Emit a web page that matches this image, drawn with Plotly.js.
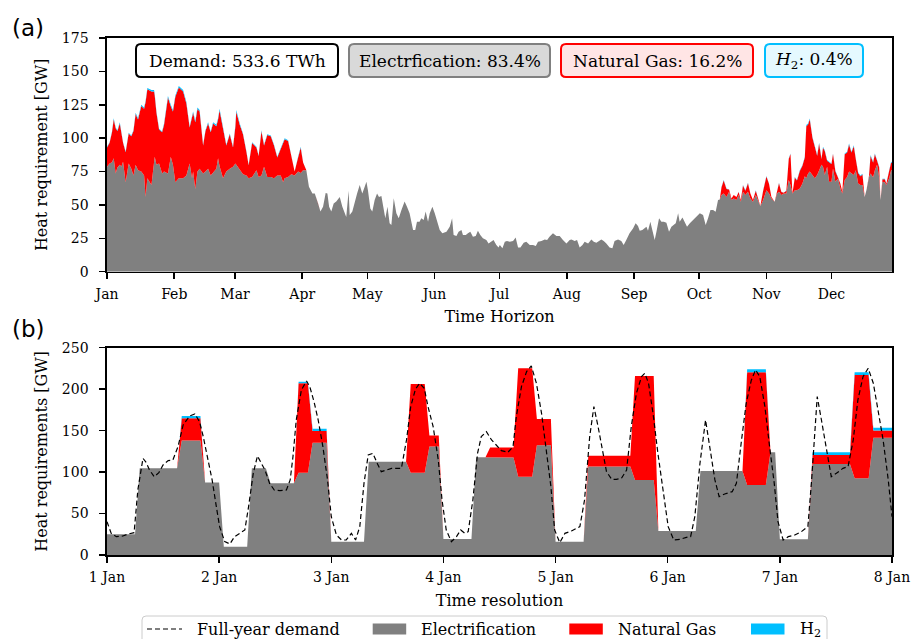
<!DOCTYPE html>
<html><head><meta charset="utf-8">
<script src="https://cdn.plot.ly/plotly-3.0.1.min.js"></script>
<style>html,body{margin:0;padding:0;background:#fff}</style>
</head><body><div id="chart" style="width:912px;height:639px"></div>
<script>
// ---------------- Panel (a): daily heat requirement over the year (GW) ----------------
const monthStartDays = [0,31,59,90,120,151,181,212,243,273,304,334];
const monthLabels = ['Jan','Feb','Mar','Apr','May','Jun','Jul','Aug','Sep','Oct','Nov','Dec'];

// winter (Jan-Mar): electrification, natural gas, H2
const winterDays = [0,1.2,2.3,3.1,4.0,4.8,5.9,6.6,7.4,8.6,10.0,11.2,12.2,13.2,14.3,15.8,17.1,17.8,18.6,20.5,21.7,22.0,22.8,24.0,25.4,26.3,28.1,29.4,30.4,31.5,33.1,35.1,36.6,38.1,39.2,39.7,40.7,41.7,42.7,44.3,45.4,46.6,47.8,48.9,50.4,51.2,51.9,53.5,55.0,56.6,58.1,59.2,59.6,61.2,62.7,64.3,65.3,66.9,68.9,69.9,71.2,72.4,73.9,75.5,77.0,78.5,80.1,81.2,81.9,83.5,85.0,86.5,88.1,89.3,90.4,91.9];
const winterElec = [78.5,81,82,85,73.6,78,80,78.5,82.3,67,81,77,72,80,76,75,72,56,70,65,82,86,80,81,73.6,75,73.6,86,80,67,70,70,72,81,70,75,62,75,77,73.6,75,77,72,74,77,85,79,70,75,77,78.5,81,80,76,73,72,70,71,76,71,72,78.5,71,71,70,72,72,67,70,71,73,72,75,74,76,76];
const winterGas = [14.5,15.5,22.4,29,33.8,27.4,31,23.9,14.2,22.5,22.4,24.4,33.4,38,38,49,50,71,66.6,70,53,46,39,25.4,30.8,35,56.8,37.8,40,64,68,65,54,26.9,47,44,50,46.8,43,20.9,30.4,34,32.4,37,32,29,41.8,36.4,19.5,25.9,14.5,28,39.8,34,29.9,17.5,9.7,25.4,17,15.6,33.2,16,31.4,30.4,24.5,13.6,19.5,28.4,29.2,26.9,12.6,3,10.6,18.9,5.7,0];
const winterH2 = [0.5,0.5,0.6,1,0.6,0.6,1,0.6,0.5,0.5,0.6,0.6,0.6,1,1,1,1,1,1,1,1,1,1,0.6,0.6,1,1.2,1.2,1,1,1,1,1,0.6,1,1,1,1.2,1,0.5,0.6,1,0.6,1,1,1,1.2,0.6,0.5,0.6,0.5,1,1.2,1,0.6,0.5,0.3,0.6,0.5,0.4,0.8,0.5,0.6,0.6,0.5,0.4,0.5,0.6,0.8,0.6,0.4,0,0.4,0.6,0.3,0];

// summer (Apr-Oct): electrification only
const summerDays = [93.1,94.7,95.8,97.3,98.4,99.6,100.8,101.6,102.4,103.4,104.5,105.7,107.3,108.5,109.6,110.3,111.4,111.9,113.1,114.2,115.3,116.5,117.7,118.8,119.6,120.3,121.4,122.3,123.4,124.5,125.4,126.5,127.3,128.3,129.3,130.3,131.1,132.2,133.4,134.5,135.7,137.2,138.3,139.5,141.1,142.1,142.9,144.1,144.9,146.0,146.9,148.0,148.8,150.0,151.1,152.1,153.4,154.6,156.5,158.0,159.1,159.8,161.1,162.1,163.4,164.1,165.4,166.4,167.5,168.7,170.0,171.0,172.1,173.3,174.9,175.9,177.2,178.2,179.5,180.5,181.1,182.3,183.4,184.4,185.7,187.2,188.4,189.5,190.6,192.1,193.3,194.9,196.4,197.7,198.7,200.3,201.8,202.9,204.0,205.6,207.2,208.7,210.2,211.8,213.3,214.1,215.6,216.7,217.9,219.2,220.2,221.8,223.3,224.4,225.6,226.8,227.9,229.0,230.2,231.7,233.0,234.0,235.6,237.1,238.2,239.4,240.9,242.5,243.7,244.8,245.6,246.8,247.9,248.7,249.4,250.5,251.4,252.5,253.3,254.5,255.6,256.7,257.9,259.1,260.2,261.3,262.2,263.3,264.0,265.3,266.4,267.4,268.7,269.9,271.0,272.0,273.3,274.8,276.0,277.1,278.2,279.4,280.6,281.7,282.5];
const summerElec = [63.6,58.6,58.6,51,45,48.6,59,58.6,48.6,45,51,52.6,56,48.6,43.7,41,60.6,42.4,45,52.6,58.6,65,58.6,63.6,67.3,61,47.4,45,53.6,58.6,56,56.6,48.6,40,48.6,36.2,35,55,43.7,40,46,52.6,48.6,43.7,31.2,31.2,37.4,37.4,40,38.7,45,37.4,43.7,48.6,43.7,37.4,31.2,28.7,30,33.6,40,27.4,26.7,30,31.2,27.4,27.4,28.7,30,26.2,26.7,30.7,27.4,25,23.7,21.2,22.4,23.7,20,18.2,20,17.5,22.4,23,22.4,23,25.7,18.2,18.2,21.6,22.4,20,20,19.2,22.4,22.9,24.2,23.7,26.2,28.7,26.7,26.7,23.7,21.2,23.7,24.2,23,23.7,18.2,20,22.4,21.2,24.2,22.4,21.6,22.9,24.2,22.9,21.2,18.2,17.5,23,24.2,23,20,23.7,28.7,32.4,36.2,34.2,30.7,31.2,32.4,33.6,30.7,37.4,31.2,23.7,30,40,37.4,37.4,36.7,30,33.6,34.9,36.2,43.7,37.4,40.6,37.4,33.6,36.2,38.2,40,41.2,43.7,42.4,35,40,46.2,46.2,44.9,53.6,54];

// autumn/winter (Oct-Dec): electrification, natural gas, H2
const autumnDays = [283.3,284.3,285.6,286.8,287.9,288.9,290.2,291.2,292.2,293.2,294.3,295.5,296.6,297.8,299.1,300.2,301.2,302.5,304.0,305.2,306.3,307.8,308.9,309.8,310.9,312.0,313.2,314.3,315.1,316.0,317.1,318.1,319.4,320.6,321.7,322.4,323.2,324.0,325.2,326.3,327.4,328.3,329.4,330.1,330.9,332.0,332.9,334.0,334.7,335.8,337.0,338.1,339.0,340.1,341.2,342.1,343.2,344.3,345.2,346.3,347.3,348.3,349.3,350.1,351.3,352.0,353.2,354.0,355.0,356.0,356.6,357.5,358.6,359.3,360.6,361.5,362];
const autumnElec = [57.4,58.6,56,59.9,53.6,54.9,53.6,57.4,52.4,59.9,57.4,59.9,54.9,52.4,57.4,53.6,49.2,53.6,61,58.6,54.9,52.4,58.6,59.9,57.4,58.6,58.6,68.6,64.9,58.6,61,61,62.3,66.1,71.4,70,73.6,75,72.4,70,72.4,76,80,78.5,72.4,78.5,67.3,67.3,77.3,67.3,69.6,62.3,58.6,68.6,71,75,73.6,72.4,76,66.1,64.9,64.9,56,61,70.8,73.6,70.8,76,80,70.8,53.6,67.3,67,64.9,70,76,76];
const autumnGas = [5.9,9.6,6,1.7,1.3,2.5,2.4,2.2,1.2,4.6,3.3,6.3,3.7,1.2,3.3,0,0,7.1,10.2,7.2,1.1,0,2.1,6.3,2.2,0.6,2.1,15.7,23.2,0,9.5,7.2,13.2,13.2,14.1,39,36.6,39,28,22.9,14.4,19.9,4.3,14.4,18,4.6,14.5,13.3,10.8,8,0.9,3.5,1.3,19.4,18.2,20.2,15.6,21.5,8.3,7.9,6.6,7.9,0,0,0.9,13.1,10.9,12,3.2,7.3,0,2,2.3,0.9,5.6,5.8,5.5];
const autumnH2 = [0.3,0.4,0.3,0,0,0,0,0.3,0,0.4,0.3,0.4,0,0,0.3,0,0,0.3,0.4,0.3,0,0,0.3,0.4,0.3,0,0.3,0.5,0.5,0,0.5,0.4,0.5,0.5,0.5,0.8,0.8,0.8,0.6,0.6,0.5,0.6,0.5,0.6,0.6,0.5,0.5,0.5,0.5,0.4,0.3,0.3,0,0.6,0.6,0.8,0.6,0.8,0.5,0.5,0.5,0.5,0,0,0.3,0.6,0.6,0.6,0.4,0.4,0,0.3,0.3,0.3,0.4,0.5,0.5];

// ---------------- Panel (b): representative week, hourly (GW) ----------------
const weekTickHours = [0,24,48,72,96,120,144,168];
const weekTickLabels = ['1 Jan','2 Jan','3 Jan','4 Jan','5 Jan','6 Jan','7 Jan','8 Jan'];
const hoursB = [0,6,7,15,16,20,21,24,25,30,31,34,35,40,41,43,44,47,48,55,56,64,65,68,69,71,72,78,79,81,82,87,88,91,92,95,96,102,103,112,113,117,118,126,127,136,137,141,142,143,144,150,151,159,160,163,164,168];
const elecB = [25,25,104.5,104.5,138,138,87.3,87.3,10,10,104.5,104.5,86.4,86.4,99.3,99.3,135.5,135.5,16.1,16.1,112.6,112.6,99.3,99.3,130.7,130.7,19.3,19.3,118,118,117.5,117.5,94.5,94.5,132.3,132.3,16.1,16.1,106.6,106.6,90.5,90.5,29,29,101.3,101.3,84.4,84.4,123.8,123.8,18.9,18.9,109.8,109.8,92.5,92.5,141.5,141.5];
const gasB = [0,0,0,0,27,27,0,0,0,0,0,0,0,0,107.7,107.7,14.1,14.1,0,0,0,0,107,107,13.3,13.3,0,0,0,0,12,12,130.7,130.7,31.7,31.7,0,0,13.2,13.2,125.5,125.5,0,0,0,0,135.9,135.9,0,0,0,0,10.8,10.8,124.5,124.5,8.5,8.5];
const h2B = [0,0,0,0,2.7,2.7,0,0,0,0,0,0,0,0,2,2,2.8,2.8,0,0,0,0,0,0,0,0,0,0,0,0,0,0,0,0,0,0,0,0,0,0,0,0,0,0,0,0,3.7,3.7,0,0,0,0,3.2,3.2,3.3,3.3,3.6,3.6];
const demandHours = [0,0.9,2.0,3.4,4.5,5.8,6.6,7.7,8.4,9.1,10.1,11.1,12.0,13.1,14.1,15.2,16.3,17.7,18.8,19.8,20.6,21.6,22.5,23.4,24.1,25.2,26.3,27.3,28.4,29.5,30.3,31.3,32.2,33.0,33.8,34.8,35.8,37.0,38.4,39.2,39.8,40.5,41.6,42.7,43.4,44.3,45.2,46.2,47.2,48.0,49.1,50.2,51.2,52.3,53.2,54.1,55.0,55.9,56.9,57.9,58.7,59.8,60.9,61.9,63.0,64.1,65.0,66.0,66.9,67.9,68.7,69.8,70.9,71.7,72.6,73.7,74.8,75.7,76.6,77.3,78.3,79.3,80.1,81.2,82.3,83.3,84.4,85.8,86.9,87.6,88.7,89.8,90.8,91.9,93.0,94.0,95.0,95.8,96.9,98.0,99.4,101.2,102.2,103.3,104.2,105.1,106.0,106.9,108.0,109.0,110.1,111.2,112.2,113.3,114.4,115.1,115.9,116.9,117.9,119.0,120.1,121.3,122.6,124.0,124.9,125.8,126.9,128.1,129.0,130.1,131.0,132.2,133.8,134.7,135.8,136.8,137.9,138.8,139.7,140.8,141.8,142.8,143.6,144.7,145.8,147.2,148.6,150.0,150.8,152.0,152.9,154.0,155.0,156.1,157.5,158.6,159.7,160.7,161.8,162.9,164.0,165.0,166.1,167.2,168.0];
const demandB = [40.2,26.1,22.1,22.9,25.3,26.9,78.4,116.6,111.4,102.5,94.5,99.3,108.6,113.8,114.6,130.7,156.8,167.7,170.1,160.8,142.7,114.6,90.5,58.3,34.2,16.1,13.3,22.1,26.1,30.2,58.3,98.5,119.4,110.6,102.5,86.4,78.4,77.6,78.4,90.5,118.6,162.8,199,209.9,203,185,162.8,130.7,90.5,46.2,24.1,18.1,18.1,26.1,18.1,34.2,86.4,120.6,122.6,109.8,100.5,102.5,104.5,104.5,104.5,138.7,178.9,199.8,207.1,201,178.9,154.8,114.6,66.3,30.2,16.1,22.1,30.2,26.1,28.1,66.3,122.6,142.7,148.8,138.7,132.7,125.9,123.8,130.7,166.9,203,221.2,228,207.1,170.9,126.7,82.4,30.2,14.9,26.1,29,34.2,66.3,142.7,178.9,154.8,126.7,100.5,91.3,91.3,92.5,102.5,154.8,195,215.1,219.1,207.1,168.9,122.6,76.4,34.2,18.1,18.9,21.3,22.1,46.2,110.6,162.8,130.7,90.5,70.4,73.6,76.4,86.4,138.7,183,211.1,223.2,215.1,178.9,130.7,86.4,40.2,18.1,22.1,24.1,28.1,34.2,90.5,191,162.8,126.7,94.5,98.5,104.5,106.6,138.7,187,215.1,225.2,207.1,174.9,138.7,90.5,46.2];

// share boxes
const shareLabels = ['Demand: 533.6 TWh','Electrfication: 83.4%','Natural Gas: 16.2%','<i>H</i><sub>2</sub>: 0.4%'];
const legendLabels = ['Full-year demand','Electrification','Natural Gas','H<sub>2</sub>'];

// ---------------- colours ----------------
const C_ELEC = '#808080', C_GAS = '#ff0000', C_H2 = '#00bfff';

// ---------------- build traces ----------------
const daysA = winterDays.concat(summerDays, autumnDays);
const elecA = winterElec.concat(summerElec, autumnElec);
const gasA = winterGas.concat(summerDays.map(() => 0), autumnGas);   // no gas in summer
const h2A = winterH2.concat(summerDays.map(() => 0), autumnH2);      // no H2 in summer

const area = (x, y, color, grp, xa, ya) => ({
  x, y, type: 'scatter', mode: 'lines', stackgroup: grp, fill: 'tonexty',
  fillcolor: color, line: {width: 0, color: color}, xaxis: xa, yaxis: ya,
  showlegend: false, hoverinfo: 'skip'
});

const traces = [
  area(daysA, elecA, C_ELEC, 'a', 'x', 'y'),
  area(daysA, gasA, C_GAS, 'a', 'x', 'y'),
  area(daysA, h2A, C_H2, 'a', 'x', 'y'),
  area(hoursB, elecB, C_ELEC, 'b', 'x2', 'y2'),
  area(hoursB, gasB, C_GAS, 'b', 'x2', 'y2'),
  area(hoursB, h2B, C_H2, 'b', 'x2', 'y2'),
  {x: demandHours, y: demandB, type: 'scatter', mode: 'lines', xaxis: 'x2', yaxis: 'y2',
   line: {color: '#000', width: 1.2, dash: '5px,3px'}, showlegend: false, hoverinfo: 'skip'}
];

// ---------------- layout helpers (pixel -> paper) ----------------
const W = 912, H = 639, ML = 107, MR = 20, MT = 38, MB = 84;
const PW = W - ML - MR, PH = H - MT - MB;
const px = x => (x - ML) / PW;
const py = y => (H - MB - y) / PH;
function rrect(x0, y0, x1, y1, r) {
  const X0 = px(x0), X1 = px(x1), Y0 = py(y0), Y1 = py(y1), rx = r / PW, ry = r / PH;
  return `M${X0+rx},${Y0} L${X1-rx},${Y0} Q${X1},${Y0} ${X1},${Y0-ry} L${X1},${Y1+ry} Q${X1},${Y1} ${X1-rx},${Y1} ` +
         `L${X0+rx},${Y1} Q${X0},${Y1} ${X0},${Y1+ry} L${X0},${Y0-ry} Q${X0},${Y0} ${X0+rx},${Y0} Z`;
}
const FONT = 'DejaVu Serif';
const shapes = [], annotations = [];

// share boxes in panel (a)
const boxes = [
  {x0: 136, x1: 338, fill: '#ffffff', line: '#000000'},
  {x0: 349, x1: 550, fill: '#d9d9d9', line: '#808080'},
  {x0: 561, x1: 753, fill: '#ffe5e5', line: '#ff0000'},
  {x0: 765, x1: 863, fill: '#e5f9ff', line: '#00bfff'}
];
boxes.forEach((b, i) => {
  shapes.push({type: 'path', xref: 'paper', yref: 'paper', path: rrect(b.x0, 44, b.x1, 77, 5),
               fillcolor: b.fill, line: {color: b.line, width: 2}, layer: 'above'});
  annotations.push({xref: 'paper', yref: 'paper', x: px((b.x0 + b.x1) / 2), y: py(60.5),
                    xanchor: 'center', yanchor: 'middle', showarrow: false, text: shareLabels[i],
                    font: {family: FONT, size: 17, color: '#000'}});
});

// panel labels
annotations.push({xref: 'paper', yref: 'paper', x: px(10), y: py(28), xanchor: 'left', yanchor: 'middle',
                  showarrow: false, text: '(a)', font: {family: 'DejaVu Sans', size: 23, color: '#000'}});
annotations.push({xref: 'paper', yref: 'paper', x: px(10), y: py(329), xanchor: 'left', yanchor: 'middle',
                  showarrow: false, text: '(b)', font: {family: 'DejaVu Sans', size: 23, color: '#000'}});

// legend (drawn below panel b)
shapes.push({type: 'path', xref: 'paper', yref: 'paper', path: rrect(142, 616, 827, 662, 4),
             fillcolor: '#ffffff', line: {color: '#cccccc', width: 1}, layer: 'above'});
const legY = 629;
shapes.push({type: 'line', xref: 'paper', yref: 'paper', x0: px(147), x1: px(182), y0: py(legY), y1: py(legY),
             line: {color: '#000', width: 1.2, dash: '5px,3px'}, layer: 'above'});
const swatches = [{x: 372.7, c: C_ELEC}, {x: 569.3, c: C_GAS}, {x: 751, c: C_H2}];
swatches.forEach(s => shapes.push({type: 'rect', xref: 'paper', yref: 'paper', x0: px(s.x), x1: px(s.x + 33.5),
  y0: py(legY + 5.5), y1: py(legY - 5.5), fillcolor: s.c, line: {width: 0}, layer: 'above'}));
const legTextX = [195, 419, 616, 797.7];
legendLabels.forEach((t, i) => annotations.push({xref: 'paper', yref: 'paper', x: px(legTextX[i]), y: py(legY),
  xanchor: 'left', yanchor: 'middle', showarrow: false, text: t, font: {family: FONT, size: 16, color: '#000'}}));

const axisCommon = {
  showline: true, linecolor: '#000', linewidth: 1.6, mirror: true, showgrid: false, zeroline: false,
  ticks: 'outside', ticklen: 6, tickwidth: 1.5, tickcolor: '#000',
  tickfont: {family: FONT, size: 14, color: '#000'}
};

const layout = {
  width: W, height: H, margin: {l: ML, r: MR, t: MT, b: MB},
  paper_bgcolor: '#fff', plot_bgcolor: '#fff', showlegend: false, hovermode: false,
  font: {family: FONT, size: 14, color: '#000'},
  xaxis: Object.assign({}, axisCommon, {domain: [0, 1], anchor: 'y', range: [0, 361.9],
    tickmode: 'array', tickvals: monthStartDays, ticktext: monthLabels, ticklabelstandoff: 3,
    title: {text: 'Time Horizon', font: {family: FONT, size: 16}, standoff: 10}}),
  yaxis: Object.assign({}, axisCommon, {domain: [py(271.7), 1], anchor: 'x', range: [0, 175],
    tickmode: 'linear', tick0: 0, dtick: 25, ticklabelstandoff: 8,
    title: {text: 'Heat requirement [GW]', font: {family: FONT, size: 16}, standoff: 10}}),
  xaxis2: Object.assign({}, axisCommon, {domain: [0, 1], anchor: 'y2', range: [0, 168],
    tickmode: 'array', tickvals: weekTickHours, ticktext: weekTickLabels, ticklabelstandoff: 3,
    title: {text: 'Time resolution', font: {family: FONT, size: 16}, standoff: 10}}),
  yaxis2: Object.assign({}, axisCommon, {domain: [0, py(347.7)], anchor: 'x2', range: [0, 250],
    tickmode: 'linear', tick0: 0, dtick: 50, ticklabelstandoff: 8,
    title: {text: 'Heat requirements [GW]', font: {family: FONT, size: 16}, standoff: 10}}),
  shapes, annotations
};

Plotly.newPlot('chart', traces, layout, {displayModeBar: false, staticPlot: true});
</script>
</body></html>
